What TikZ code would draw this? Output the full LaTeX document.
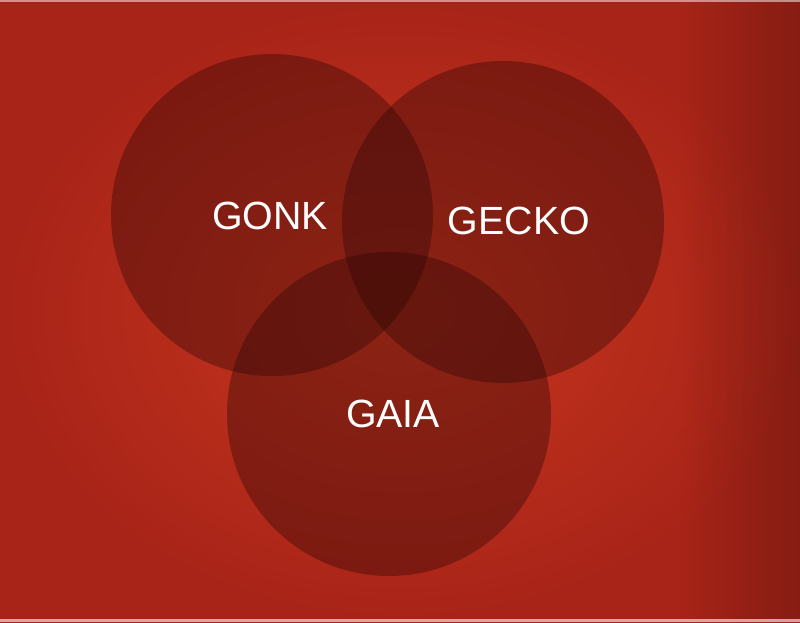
\documentclass[tikz,border=0pt]{standalone}
\usepackage{fontspec}
\setmainfont{Liberation Sans}
\usetikzlibrary{fadings}
\definecolor{bginner}{RGB}{200,54,30}
\definecolor{bgouter}{RGB}{168,36,24}
\definecolor{setfill}{RGB}{45,6,6}
\tikzfading[name=rightdark, left color=transparent!100, right color=transparent!0]

\begin{document}
\begin{tikzpicture}[x=0.75pt,y=-0.75pt,
    setcircle/.style={fill=setfill, fill opacity=0.38},
    setlabel/.style={text=white, font=\fontsize{29.5}{32}\selectfont, inner sep=0pt}]
% draw the background
\shade[inner color=bginner, outer color=bgouter] (0,0) rectangle (800,622);
\useasboundingbox (0,0) rectangle (800,622);
\fill[black, opacity=0.2, path fading=rightdark] (680,0) rectangle (800,622);
\fill[white, opacity=0.5] (0,0) rectangle (800,1.5);
\fill[white, opacity=0.6] (0,619) rectangle (800,622);

% draw the three sets
\fill[setcircle] (272,215) circle (161);
\fill[setcircle] (503,222) circle (161);
\fill[setcircle] (389,414) circle (162);

% name the sets
\node[setlabel] (gonk)  at (270,216) {GONK};
\node[setlabel] (gecko) at (519,221) {GECKO};
\node[setlabel] (gaia)  at (393,414) {GAIA};

\end{tikzpicture}
\end{document}
